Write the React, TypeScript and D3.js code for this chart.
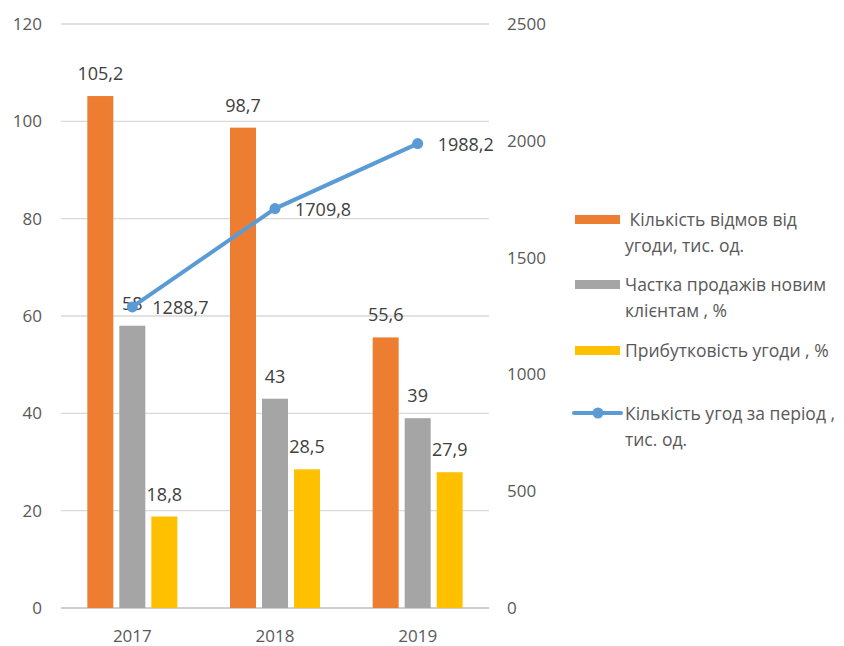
import React from "react";
import * as d3 from "d3";

const years = ["2017", "2018", "2019"];
const refusals = [105.2, 98.7, 55.6];
const newClientShare = [58, 43, 39];
const profitability = [18.8, 28.5, 27.9];
const deals = [1288.7, 1709.8, 1988.2];
const leftTicks = [0, 20, 40, 60, 80, 100, 120];
const rightTicks = [0, 500, 1000, 1500, 2000, 2500];
const seriesNames = [
  [" Кількість відмов від", "угоди, тис. од."],
  ["Частка продажів новим", "клієнтам , %"],
  ["Прибутковість угоди , %"],
  ["Кількість угод за період ,", "тис. од."],
];
const colors = ["#ED7D31", "#A5A5A5", "#FFC000", "#5B9BD5"];

const fmt = (v: number) => String(v).replace(".", ",");

export default function App() {
  const W = 844, H = 646;
  const left = 61, right = 489, top = 24, bottom = 608;
  const x = d3.scaleBand().domain(years).range([left, right]);
  const yL = d3.scaleLinear().domain([0, 120]).range([bottom, top]);
  const yR = d3.scaleLinear().domain([0, 2500]).range([bottom, top]);
  const barW = 26, gap = 6;
  const barSeries = [refusals, newClientShare, profitability];
  const font = "'Open Sans', 'Liberation Sans', sans-serif";
  const line = d3.line<number>().x((_, i) => x(years[i])! + x.bandwidth() / 2).y((d) => yR(d));
  const legendY = [219, 284, 350, 413];
  return (
    <svg width={W} height={H} style={{ position: "absolute", left: 0, top: 0, background: "#fff" }} fontFamily={font}>
      {leftTicks.map((t) => (
        <g key={t}>
          <line x1={left} x2={right} y1={yL(t)} y2={yL(t)} stroke={t === 0 ? "#BFBFBF" : "#D9D9D9"} strokeWidth={1.3} />
          <text x={42} y={yL(t) + 6} textAnchor="end" fontSize={17} fill="#595959">{t}</text>
        </g>
      ))}
      {rightTicks.map((t) => (
        <text key={t} x={507} y={yR(t) + 6} textAnchor="start" fontSize={17} fill="#595959">{t}</text>
      ))}
      {years.map((yr) => (
        <text key={yr} x={x(yr)! + x.bandwidth() / 2} y={642} textAnchor="middle" fontSize={17} fill="#595959">{yr}</text>
      ))}
      {barSeries.map((s, si) =>
        s.map((v, i) => {
          const cx = x(years[i])! + x.bandwidth() / 2;
          const bx = cx - (3 * barW + 2 * gap) / 2 + si * (barW + gap);
          return (
            <g key={si + "-" + i}>
              <rect x={bx} y={yL(v)} width={barW} height={bottom - yL(v)} fill={colors[si]} />
              <text x={bx + barW / 2} y={yL(v) - 16} textAnchor="middle" fontSize={18} fill="#404040">{fmt(v)}</text>
            </g>
          );
        })
      )}
      <path d={line(deals) || ""} fill="none" stroke={colors[3]} strokeWidth={4} strokeLinecap="round" />
      {deals.map((v, i) => {
        const cx = x(years[i])! + x.bandwidth() / 2;
        return (
          <g key={i}>
            <circle cx={cx} cy={yR(v)} r={5.5} fill={colors[3]} />
            <text x={cx + 20} y={yR(v) + 7} fontSize={18} fill="#404040">{fmt(v)}</text>
          </g>
        );
      })}
      {seriesNames.map((lines, i) => (
        <g key={i}>
          {i < 3 ? (
            <rect x={575} y={legendY[i] - 4} width={45} height={9} fill={colors[i]} />
          ) : (
            <g>
              <line x1={574} x2={621} y1={legendY[i]} y2={legendY[i]} stroke={colors[3]} strokeWidth={4} strokeLinecap="round" />
              <circle cx={598} cy={legendY[i]} r={5.5} fill={colors[3]} />
            </g>
          )}
          {lines.map((l, j) => (
            <text key={j} x={625} y={legendY[i] + 7 + j * 26} fontSize={17.5} fill="#595959" style={{ whiteSpace: "pre" }}>{l}</text>
          ))}
        </g>
      ))}
    </svg>
  );
}
